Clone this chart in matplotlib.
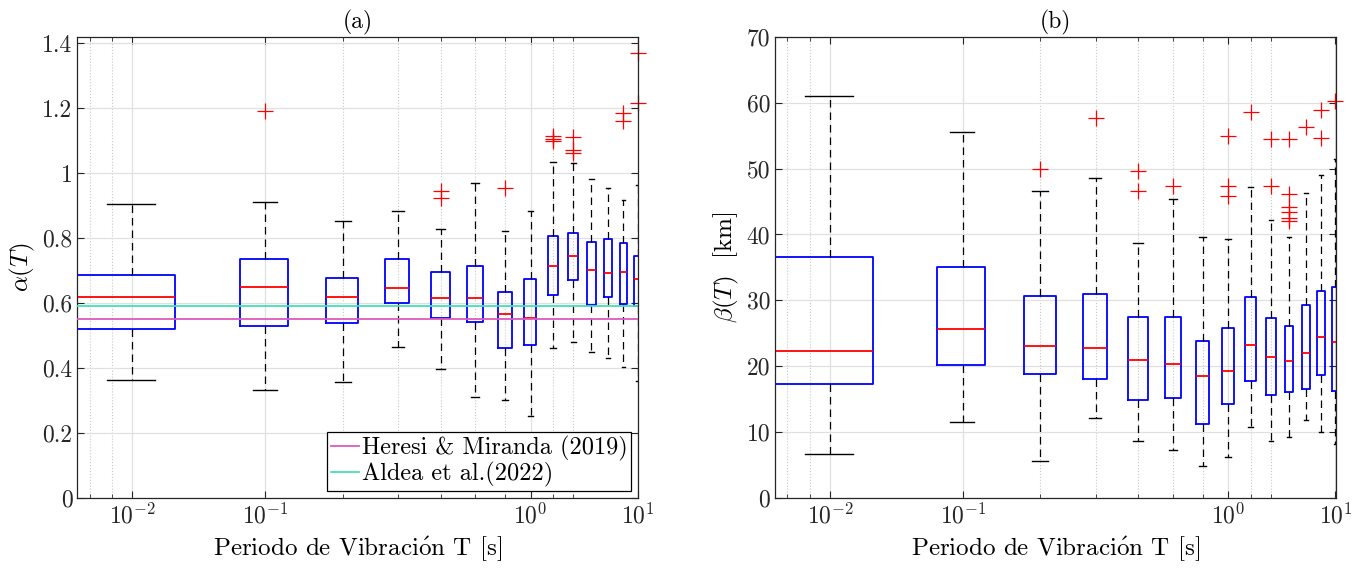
import numpy as np
import matplotlib
matplotlib.use('Agg')
import matplotlib.pyplot as plt
from matplotlib.ticker import FixedLocator, NullFormatter

plt.rcParams['font.family'] = ['cmr10', 'DejaVu Serif']
plt.rcParams['mathtext.fontset'] = 'cm'
plt.rcParams['axes.unicode_minus'] = False
plt.rcParams['axes.formatter.use_mathtext'] = True

# posiciones de los boxplot (indice del periodo, como en MATLAB)
posiciones = np.arange(1, 15)
tick_pos = [1, 2, 8, 14]
tick_lab = [r'$10^{-2}$', r'$10^{-1}$', r'$10^{0}$', r'$10^{1}$']

# alpha(T)
a_q3 = [0.686, 0.737, 0.677, 0.737, 0.696, 0.716, 0.636, 0.675, 0.807, 0.816, 0.788, 0.798, 0.785, 0.746]
a_med = [0.619, 0.651, 0.618, 0.646, 0.616, 0.617, 0.566, 0.555, 0.713, 0.746, 0.702, 0.694, 0.695, 0.674]
a_q1 = [0.520, 0.531, 0.540, 0.601, 0.555, 0.543, 0.463, 0.472, 0.626, 0.672, 0.593, 0.619, 0.599, 0.590]
a_whi = [0.906, 0.912, 0.852, 0.885, 0.829, 0.969, 0.823, 0.884, 1.034, 1.031, 0.981, 0.954, 0.918, 0.964]
a_wlo = [0.365, 0.333, 0.357, 0.466, 0.397, 0.310, 0.302, 0.253, 0.463, 0.482, 0.451, 0.433, 0.403, 0.362]
a_out = [[], [1.19], [], [], [0.923, 0.945], [], [0.954], [], [1.098, 1.105, 1.113],
         [1.061, 1.072, 1.111], [], [], [1.16, 1.185], [1.215, 1.37]]

# beta(T) [km]
b_q3 = [36.6, 35.0, 30.7, 31.0, 27.45, 27.45, 23.85, 25.78, 30.57, 27.3, 26.18, 29.36, 31.4, 32.0]
b_med = [22.4, 25.6, 23.1, 22.84, 20.97, 20.37, 18.5, 19.3, 23.3, 21.38, 20.82, 22.08, 24.5, 23.75]
b_q1 = [17.4, 20.2, 18.8, 18.09, 14.86, 15.16, 11.27, 14.35, 17.79, 15.67, 16.12, 16.62, 18.75, 16.32]
b_whi = [61.0, 55.6, 46.6, 48.5, 38.67, 45.34, 39.58, 39.3, 47.2, 42.16, 39.63, 46.3, 49.0, 51.4]
b_wlo = [6.77, 11.5, 5.6, 12.1, 8.64, 7.32, 4.95, 6.26, 10.77, 8.64, 9.25, 11.92, 10.1, 8.23]
b_out = [[], [], [50.0], [57.6], [46.65, 49.7], [47.36], [], [45.85, 47.36, 54.9], [58.6],
         [47.4, 54.44], [42.05, 42.46, 43.4, 44.2, 46.15, 54.44], [56.3], [54.64, 58.9], [60.3]]

# referencias para alpha
ref_nombres = ['Heresi & Miranda (2019)', 'Aldea et al.(2022)']
ref_valores = [0.55, 0.59]
ref_colores = ['#dc5ac0', '#45e0b2']


def stats(q1, med, q3, wlo, whi, out):
    return [dict(q1=q1[i], med=med[i], q3=q3[i], whislo=wlo[i], whishi=whi[i],
                 fliers=np.array(out[i])) for i in range(len(med))]


def panel(ax, st, yticks, ylabels, ylim, titulo, ylab):
    arts = ax.bxp(st, positions=posiciones, widths=0.5, manage_ticks=False,
                  boxprops=dict(color='blue', linewidth=1.3),
                  medianprops=dict(color='red', linewidth=1.3),
                  whiskerprops=dict(color='black', linewidth=0.9, linestyle=(0, (6, 4))),
                  capprops=dict(color='black', linewidth=1.0),
                  flierprops=dict(marker='+', markeredgecolor='red', markersize=11,
                                  markeredgewidth=0.9, linestyle='none'))
    for a in arts['fliers']:
        a.set_clip_on(False)
    ax.set_xscale('log')
    ax.set_xlim(0.75, 14.05)
    ax.xaxis.set_major_locator(FixedLocator(tick_pos))
    ax.set_xticklabels(tick_lab)
    ax.xaxis.set_minor_locator(FixedLocator([0.8, 0.9, 3, 4, 5, 6, 7, 9, 10]))
    ax.xaxis.set_minor_formatter(NullFormatter())
    ax.set_ylim(*ylim)
    ax.set_yticks(yticks)
    ax.set_yticklabels(ylabels)
    ax.grid(True, which='major', color='#e0e0e0', linewidth=0.9)
    ax.grid(True, which='minor', axis='x', color='#c8c8c8', linewidth=0.8, linestyle=':')
    ax.set_axisbelow(True)
    ax.tick_params(which='both', direction='in', top=True, right=True,
                   colors='#262626', labelsize=17, length=5)
    ax.tick_params(which='minor', length=3)
    for s in ax.spines.values():
        s.set_color('#262626')
        s.set_linewidth(0.9)
    ax.set_title(titulo, fontsize=17)
    ax.set_xlabel(r'Periodo de Vibraci$\acute{\mathrm{o}}$n T [s]', fontsize=18)
    ax.set_ylabel(ylab, fontsize=18)


fig = plt.figure(figsize=(13.64, 5.69), dpi=100)
ax1 = fig.add_axes([0.0567, 0.1243, 0.4113, 0.8113])
ax2 = fig.add_axes([0.5682, 0.1243, 0.4113, 0.8113])

panel(ax1, stats(a_q1, a_med, a_q3, a_wlo, a_whi, a_out),
      [0, 0.2, 0.4, 0.6, 0.8, 1.0, 1.2, 1.4],
      ['0', '0.2', '0.4', '0.6', '0.8', '1', '1.2', '1.4'],
      (0, 1.42), '(a)', r'$\alpha(T)$')
for nombre, val, col in zip(ref_nombres, ref_valores, ref_colores):
    ax1.axhline(val, color=col, linewidth=1.3, label=nombre, zorder=3)
leg = ax1.legend(loc='lower right', fontsize=17.5, frameon=True, fancybox=False,
                 edgecolor='black', framealpha=1, handlelength=1.15,
                 handletextpad=0.12, borderpad=0.15, labelspacing=0.05,
                 borderaxespad=0.3)
leg.get_frame().set_linewidth(0.9)

panel(ax2, stats(b_q1, b_med, b_q3, b_wlo, b_whi, b_out),
      [0, 10, 20, 30, 40, 50, 60, 70],
      ['0', '10', '20', '30', '40', '50', '60', '70'],
      (0, 70), '(b)', r'$\beta(T)$  [km]')

fig.savefig('out.png', dpi=100)
